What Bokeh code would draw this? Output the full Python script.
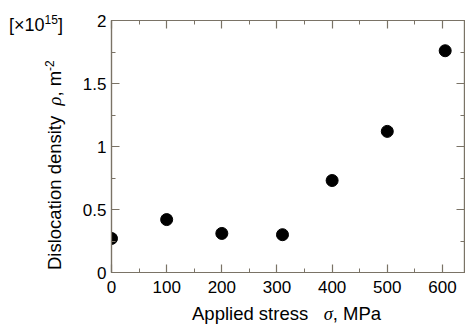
from bokeh.plotting import figure
from bokeh.models import LinearAxis, FixedTicker, Range1d, Div
from bokeh.layouts import row, column
from bokeh.embed import file_html
from bokeh.resources import INLINE

# data
stress = [0, 100, 200, 310, 400, 500, 605]
density = [0.27, 0.42, 0.31, 0.30, 0.73, 1.12, 1.76]
x_ticks = [0, 100, 200, 300, 400, 500, 600]
x_minor = [50, 150, 250, 350, 450, 550, 650]
y_ticks = [0, 0.5, 1, 1.5, 2]
y_minor = [0.25, 0.75, 1.25, 1.75]
y_tick_labels = ["0", "0.5", "1", "1.5", "2"]
x_title = "Applied stress"
x_symbol = "σ"
x_unit = ", MPa"
y_title = "Dislocation density"
y_symbol = "ρ"
y_unit = ", m"
y_unit_exp = "-2"
multiplier = "[×10"
multiplier_exp = "15"

FONT = "Liberation Sans"
SERIF = "Liberation Serif"
AX = "#7a7366"

LEFT_W = 79
FIG_W = 465 - LEFT_W
FIG_H = 302
BOTTOM_H = 325 - FIG_H

p = figure(width=FIG_W, height=FIG_H, output_backend="svg", toolbar_location=None,
           x_range=Range1d(0, 640), y_range=Range1d(0, 2),
           x_axis_location=None, y_axis_location=None,
           min_border_left=30, min_border_right=1, min_border_top=20, min_border_bottom=30)
p.grid.visible = False
p.outline_line_color = AX
p.outline_line_width = 1.2
p.background_fill_color = "white"
p.border_fill_color = "white"

def mk_axis(show_labels, ticks, minor, standoff):
    a = LinearAxis(ticker=FixedTicker(ticks=ticks, minor_ticks=minor))
    a.axis_line_color = AX
    a.axis_line_width = 1.2
    a.major_tick_line_color = AX
    a.minor_tick_line_color = AX
    a.major_tick_line_width = 1.2
    a.minor_tick_line_width = 1.0
    a.major_tick_in = 8
    a.major_tick_out = 0
    a.minor_tick_in = 4
    a.minor_tick_out = 0
    a.major_label_text_font = FONT
    a.major_label_text_color = "black"
    a.major_label_text_font_size = "17px"
    a.major_label_standoff = standoff
    if not show_labels:
        a.major_label_overrides = {t: "" for t in ticks}
        a.major_label_standoff = 0
    return a

bx = mk_axis(True, x_ticks, x_minor, 8)
ly = mk_axis(True, y_ticks, y_minor, 5)
ly.major_label_overrides = dict(zip(y_ticks, y_tick_labels))
tx = mk_axis(False, x_ticks, x_minor, 0)
ry = mk_axis(False, y_ticks, y_minor, 0)
p.add_layout(bx, "below")
p.add_layout(ly, "left")
p.add_layout(tx, "above")
p.add_layout(ry, "right")

p.scatter(stress, density, size=12, color="black")

base = f"font-family:'{FONT}';color:black;white-space:nowrap;line-height:1;position:absolute;"

left_html = f"""
<div style="position:relative;width:{LEFT_W}px;height:{FIG_H}px;overflow:visible;">
  <div style="{base}left:9px;top:16px;font-size:18px;">{multiplier}<span style="font-size:12px;position:relative;top:-7px;">{multiplier_exp}</span>]</div>
  <div style="{base}left:46px;top:270px;font-size:18.5px;transform:rotate(-90deg);transform-origin:left top;">{y_title}&nbsp;&nbsp;<span style="font-family:'{SERIF}';font-style:italic;">{y_symbol}</span>{y_unit}<span style="font-size:12px;position:relative;top:-7px;">{y_unit_exp}</span></div>
</div>
"""

bottom_html = f"""
<div style="position:relative;width:465px;height:{BOTTOM_H}px;overflow:visible;">
  <div style="{base}left:192px;top:3px;font-size:18.5px;">{x_title}&nbsp;&nbsp;&nbsp;<span style="font-family:'{SERIF}';font-style:italic;">{x_symbol}</span>{x_unit}</div>
</div>
"""

left_div = Div(text=left_html, width=LEFT_W, height=FIG_H, margin=(0, 0, 0, 0))
bottom_div = Div(text=bottom_html, width=465, height=BOTTOM_H, margin=(0, 0, 0, 0))

layout = column(row(left_div, p, spacing=0), bottom_div, spacing=0)

open("out.html", "w").write(file_html(layout, INLINE))
